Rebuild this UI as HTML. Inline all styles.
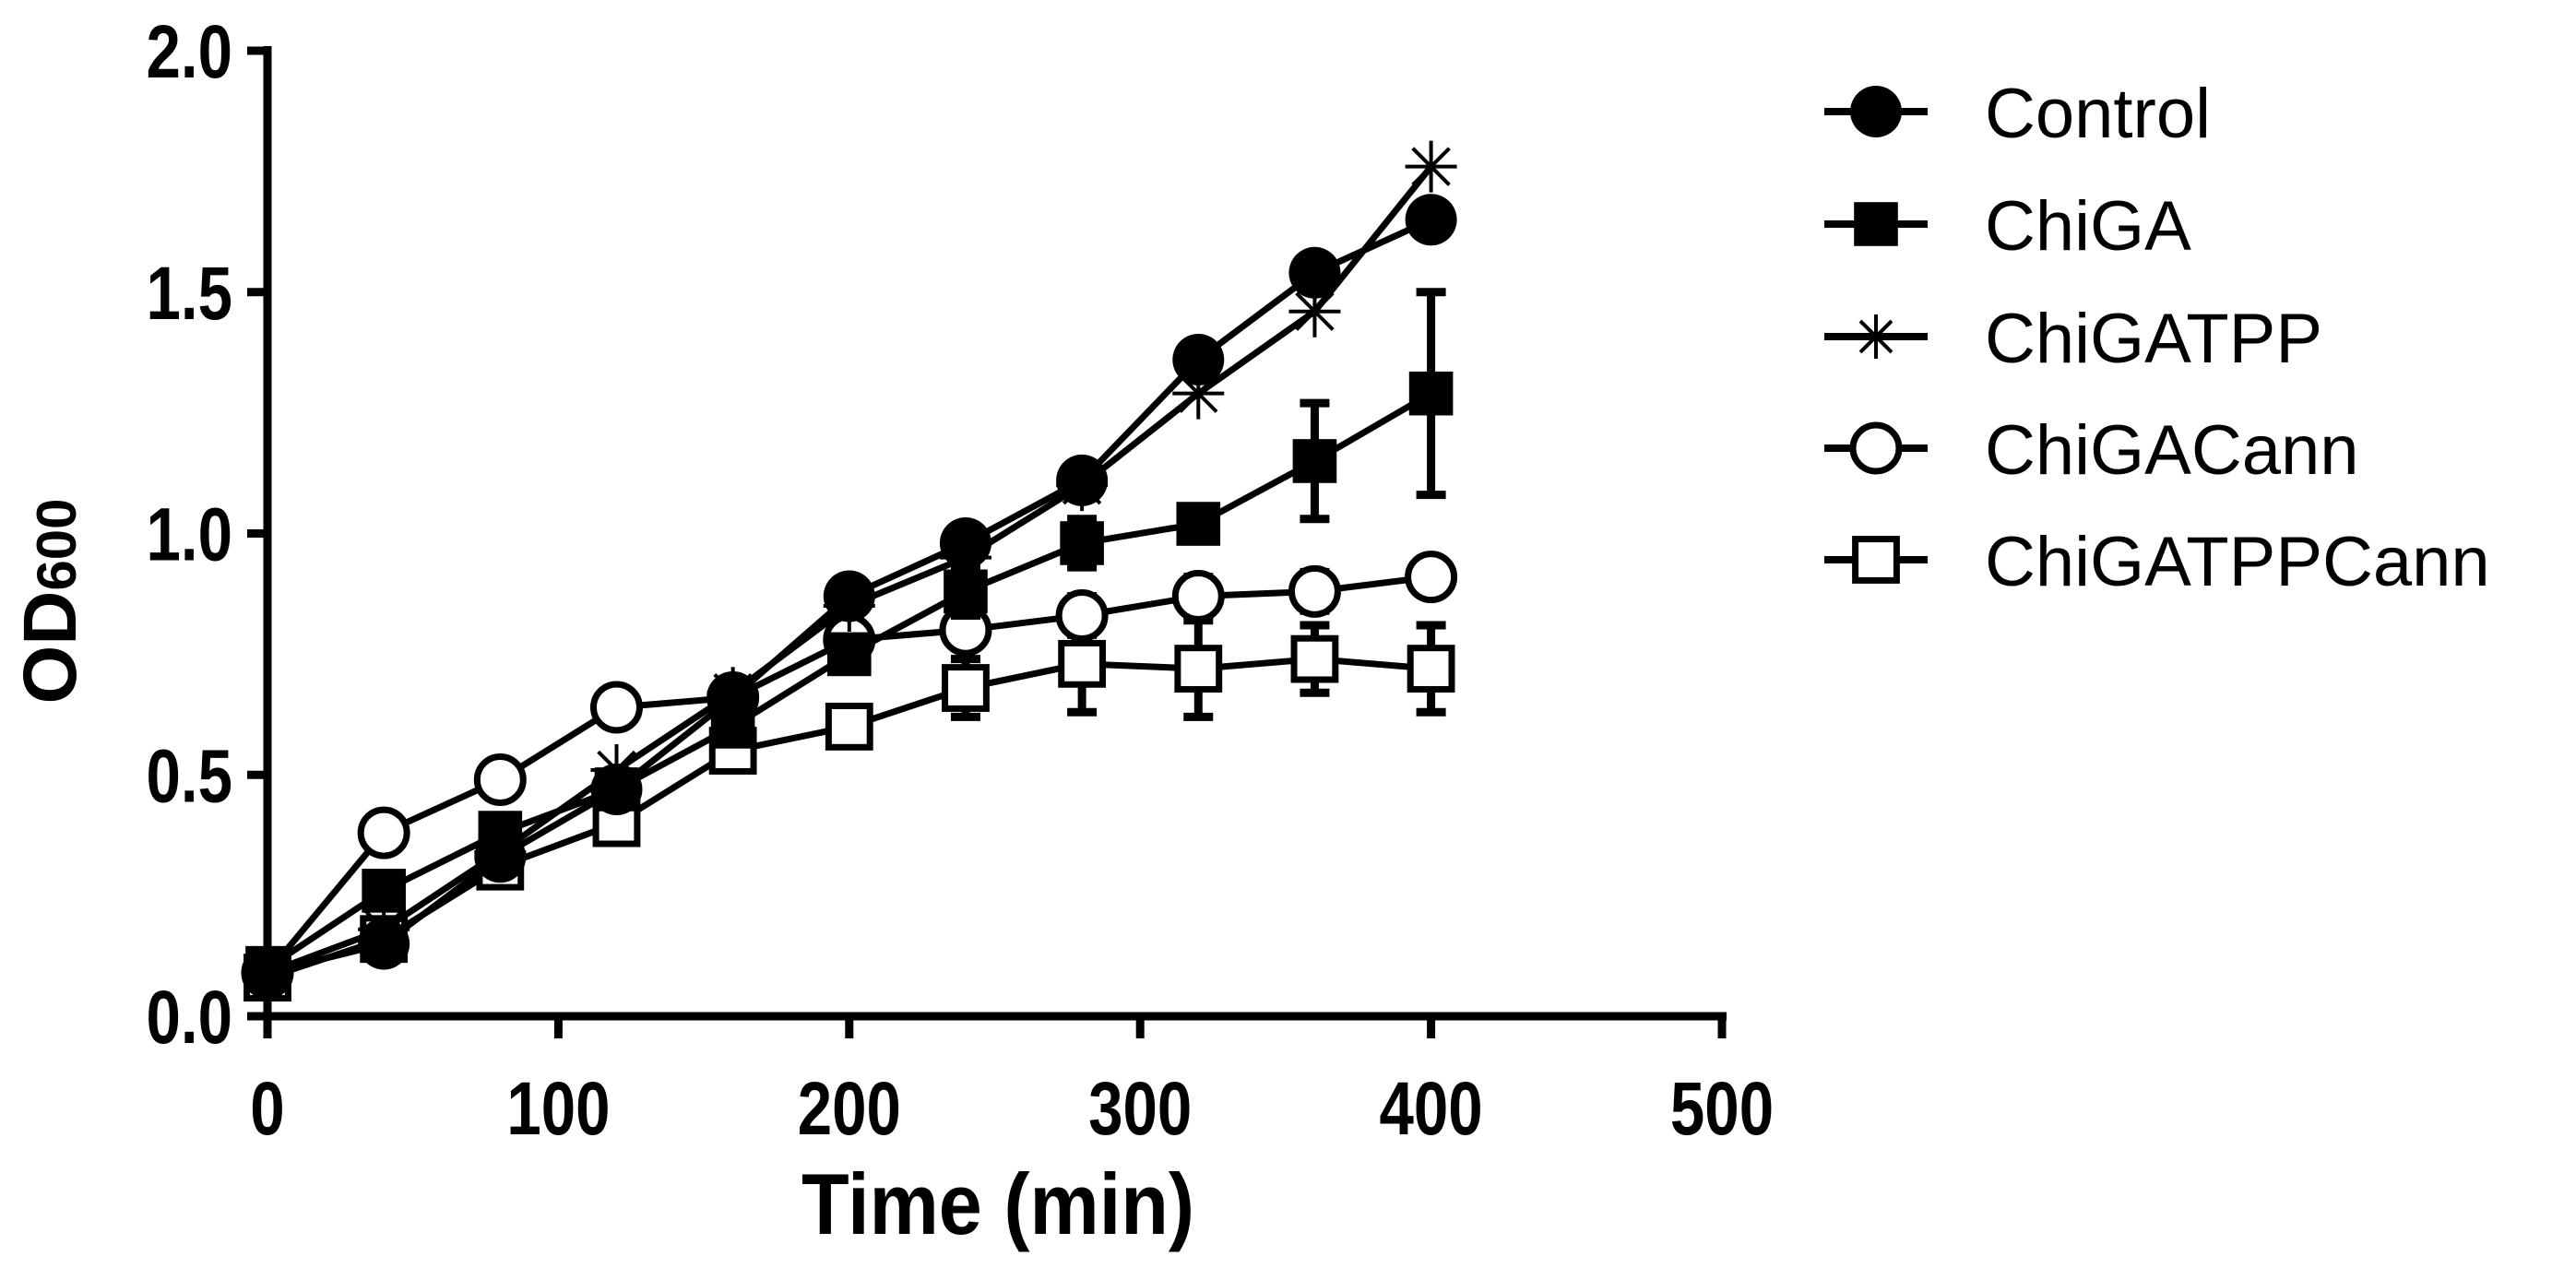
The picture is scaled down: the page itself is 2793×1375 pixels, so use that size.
<!DOCTYPE html>
<html><head><meta charset="utf-8"><style>
html,body{margin:0;padding:0;background:#fff;width:2793px;height:1375px;overflow:hidden}
svg{display:block}
text{font-family:"Liberation Sans",Arial,sans-serif}
</style></head><body>
<svg id="chart" width="2793" height="1375" viewBox="0 0 2793 1375" xmlns="http://www.w3.org/2000/svg"></svg>
<script>
const xValues=[0,40,80,120,160,200,240,280,320,360,400];
const seriesNames=["Control","ChiGA","ChiGATPP","ChiGACann","ChiGATPPCann"];
const controlVals=[0.09,0.15,0.33,0.47,0.66,0.87,0.98,1.11,1.36,1.54,1.65];
const chigaVals=[0.10,0.26,0.38,0.47,0.60,0.75,0.88,0.98,1.02,1.15,1.29];
const chigaErr=[0.02,0.03,0.03,0.03,0.03,0.03,0.05,0.05,0.03,0.12,0.21];
const chigatppVals=[0.09,0.18,0.34,0.51,0.67,0.85,0.95,1.10,1.29,1.46,1.76];
const chigacannVals=[0.09,0.38,0.49,0.64,0.66,0.78,0.80,0.83,0.87,0.88,0.91];
const chigacannErr=[0.01,0.02,0.02,0.02,0.02,0.03,0.03,0.04,0.04,0.04,0.02];
const chigatppcannVals=[0.08,0.16,0.31,0.40,0.55,0.60,0.68,0.73,0.72,0.74,0.72];
const chigatppcannErr=[0.01,0.02,0.02,0.02,0.03,0.03,0.06,0.10,0.10,0.07,0.09];
const xTicks=[0,100,200,300,400,500];
const yTicks=[0.0,0.5,1.0,1.5,2.0];
const yTickLabels=["0.0","0.5","1.0","1.5","2.0"];

const NS="http://www.w3.org/2000/svg";
const svg=document.getElementById('chart');
const X0=290,X1=1867,Y0=1102,Y1=55;
const sx=v=>X0+(v-0)/(500-0)*(X1-X0);
const sy=v=>Y0-(v-0)/(2-0)*(Y0-Y1);
function el(tag,attrs,parent){const e=document.createElementNS(NS,tag);for(const k in attrs)e.setAttribute(k,attrs[k]);(parent||svg).appendChild(e);return e;}

const axes=el('g',{});


const ya=el('line',{x1:X0,y1:Y1-5,x2:X0,y2:Y0+5,stroke:'#000','stroke-width':9},axes);


const xa=el('line',{x1:X0-5,y1:Y0,x2:X1+5,y2:Y0,stroke:'#000','stroke-width':9},axes);


yTicks.forEach((v,i)=>{
  const t=el('line',{x1:X0-22,y1:sy(v),x2:X0,y2:sy(v),stroke:'#000','stroke-width':9},axes);
  
  
  const l=el('text',{transform:`translate(${X0-38},${sy(v)+29}) scale(0.82,1)`,'text-anchor':'end','font-size':82,'font-weight':'bold'},axes);
  l.textContent=yTickLabels[i];
  
  
});
xTicks.forEach(v=>{
  const t=el('line',{x1:sx(v),y1:Y0,x2:sx(v),y2:Y0+24,stroke:'#000','stroke-width':9},axes);
  
  
  const l=el('text',{transform:`translate(${sx(v)},${Y0+128}) scale(0.82,1)`,'text-anchor':'middle','font-size':82,'font-weight':'bold'},axes);
  l.textContent=String(v);
  
  
});
const xt=el('text',{transform:'translate(1082,1338) scale(0.9,1)','text-anchor':'middle','font-size':94,'font-weight':'bold'});
xt.textContent='Time (min)';


const yt=el('text',{transform:'translate(82,652) rotate(-90)','text-anchor':'middle','font-size':82,'font-weight':'bold'});
yt.innerHTML='OD<tspan font-size="60">600</tspan>';



function marker(type,x,y,g,r){
  r=r||28;
  let m;
  if(type==='circle')m=el('circle',{cx:x,cy:y,r:r,fill:'#000'},g);
  else if(type==='square')m=el('rect',{x:x-r*0.85,y:y-r*0.85,width:r*1.7,height:r*1.7,fill:'#000'},g);
  else if(type==='ocircle')m=el('circle',{cx:x,cy:y,r:r-3,fill:'#fff',stroke:'#000','stroke-width':7},g);
  else if(type==='osquare')m=el('rect',{x:x-r*0.8,y:y-r*0.8,width:r*1.6,height:r*1.6,fill:'#fff',stroke:'#000','stroke-width':7},g);
  else if(type==='star'){
    m=el('g',{},g);
    for(let a=0;a<4;a++){const ang=a*Math.PI/4;el('line',{x1:x-r*Math.cos(ang),y1:y-r*Math.sin(ang),x2:x+r*Math.cos(ang),y2:y+r*Math.sin(ang),stroke:'#000','stroke-width':4},m);}
  }
  return m;
}
const series=[
  {vals:controlVals,err:null,type:'circle'},
  {vals:chigaVals,err:chigaErr,type:'square'},
  {vals:chigatppVals,err:null,type:'star'},
  {vals:chigacannVals,err:chigacannErr,type:'ocircle'},
  {vals:chigatppcannVals,err:chigatppcannErr,type:'osquare'}
];
const order=[4,3,1,2,0];
order.forEach(si=>{
  const s=series[si];
  const g=el('g',{});
  
  
  if(s.err){xValues.forEach((x,i)=>{
    const e=s.err[i];if(e<0.03)return;
    const cx=sx(x),a=sy(s.vals[i]+e),b=sy(s.vals[i]-e);
    const eb=el('path',{d:`M${cx},${a}V${b}M${cx-16},${a}H${cx+16}M${cx-16},${b}H${cx+16}`,stroke:'#000','stroke-width':9,fill:'none'},g);
    
    
  });}
  const p=el('polyline',{points:xValues.map((x,i)=>sx(x)+','+sy(s.vals[i])).join(' '),fill:'none',stroke:'#000','stroke-width':7,'stroke-linejoin':'round'},g);
  
  
  xValues.forEach((x,i)=>{
    const m=marker(s.type,sx(x),sy(s.vals[i]),g);
    
    
  });
});

const lg=el('g',{});


const legY=[121,243,365,486,607];
seriesNames.forEach((n,i)=>{
  const g=el('g',{},lg);
  
  
  el('line',{x1:1978,y1:legY[i],x2:2090,y2:legY[i],stroke:'#000','stroke-width':8},g);
  marker(series[i].type,2034,legY[i],g,series[i].type==='star'?24:28);
  const t=el('text',{x:2152,y:legY[i]+28,'font-size':76},g);
  t.textContent=n;
  
  
});
</script>
</body></html>
